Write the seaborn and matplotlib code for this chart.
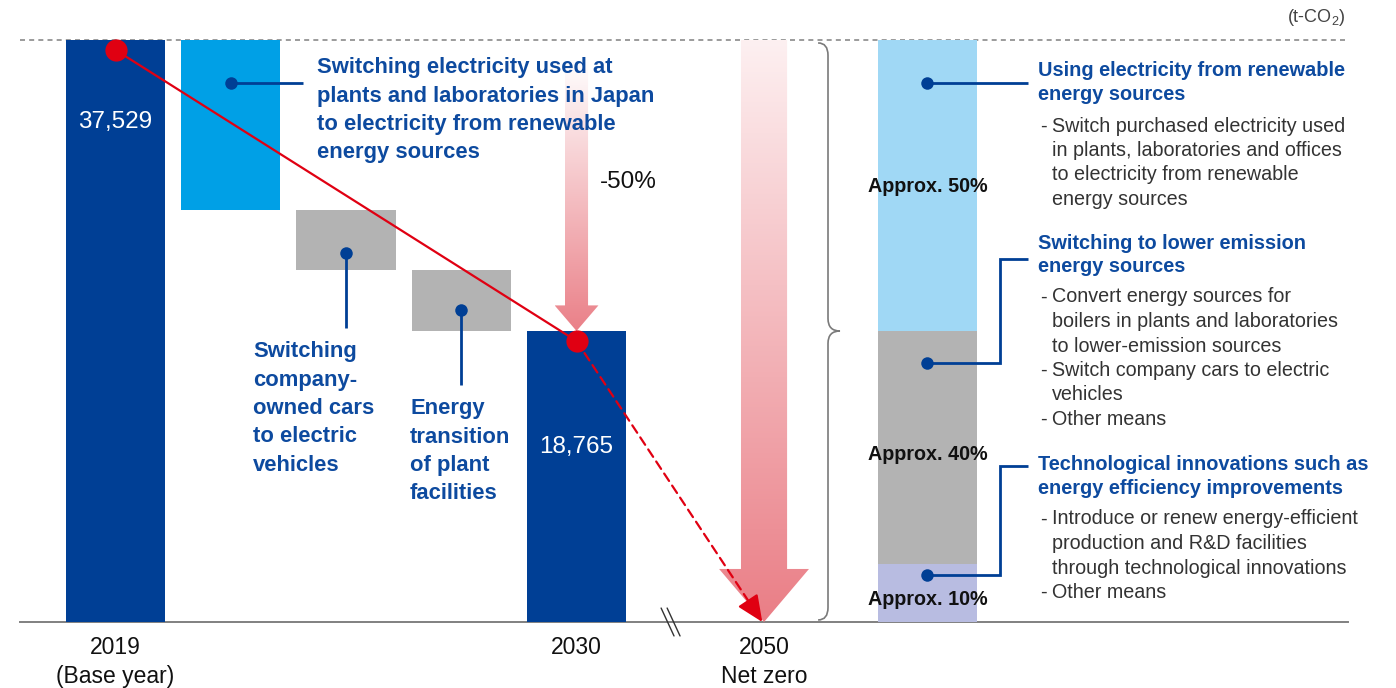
import numpy as np
import matplotlib
matplotlib.use("Agg")
import matplotlib.pyplot as plt
import seaborn as sns
from matplotlib.patches import Polygon, PathPatch
from matplotlib.path import Path
from matplotlib.colors import LinearSegmentedColormap
from matplotlib.transforms import offset_copy

# ---------------- data ----------------
years = ["2019", "2030"]
year_ticks = ["2019\n(Base year)", "2030", "2050\nNet zero"]
totals = [37529, 18765]                      # t-CO2
step_names = ["renew", "cars", "plant"]
step_values = [10960, 3900, 3904]            # reduction per measure, t-CO2
share_pct = [10, 40, 50]                     # bottom -> top
share_labels = [f"Approx. {p}%" for p in share_pct]

step_notes = [
    ["Switching electricity used at", "plants and laboratories in Japan",
     "to electricity from renewable", "energy sources"],
    ["Switching", "company-", "owned cars", "to electric", "vehicles"],
    ["Energy", "transition", "of plant", "facilities"],
]
measure_blocks = [
    (["Using electricity from renewable", "energy sources"],
     [["Switch purchased electricity used", "in plants, laboratories and offices",
       "to electricity from renewable", "energy sources"]]),
    (["Switching to lower emission", "energy sources"],
     [["Convert energy sources for", "boilers in plants and laboratories",
       "to lower-emission sources"],
      ["Switch company cars to electric", "vehicles"],
      ["Other means"]]),
    (["Technological innovations such as", "energy efficiency improvements"],
     [["Introduce or renew energy-efficient", "production and R&D facilities",
       "through technological innovations"],
      ["Other means"]]),
]

# ---------------- style ----------------
sns.set_theme(style="white")
plt.rcParams["font.family"] = ["Liberation Sans", "DejaVu Sans"]
plt.rcParams["mathtext.fontset"] = "custom"
plt.rcParams["mathtext.rm"] = "Liberation Sans"

DARK_BLUE = "#003f95"
LIGHT_BLUE = "#00a0e6"
GRAY = "#b3b3b3"
SHARE_COLORS = ["#b8bce1", "#b3b3b3", "#a0d8f5"]
TEXT_BLUE = "#0d4a9f"
RED = "#e00012"
BODY = "#333333"

W, H = 1396, 688
fig = plt.figure(figsize=(W / 100, H / 100), dpi=100)
ax = fig.add_axes([20 / W, 66 / H, 1328 / W, 582 / H])

BAR_W = 0.86
X_2050 = 5.627
X_SHARE = 7.045
X_BREAK = 4.81

order = ["2019"] + step_names + ["2030"]

# totals (2019 and 2030)
sns.barplot(x=years, y=totals, order=order, color=DARK_BLUE, saturation=1,
            width=BAR_W, linewidth=0, ax=ax, zorder=2)

# floating waterfall steps
tops = totals[0] - np.concatenate([[0], np.cumsum(step_values)[:-1]])
bottoms = tops - np.array(step_values)
ax.bar([1, 2, 3], step_values, bottom=bottoms, width=BAR_W,
       color=[LIGHT_BLUE, GRAY, GRAY], linewidth=0, zorder=2)

# share of measures toward net zero
share_vals = np.array(share_pct) / 100 * totals[0]
share_bottoms = np.concatenate([[0], np.cumsum(share_vals)[:-1]])
ax.bar([X_SHARE] * 3, share_vals, bottom=share_bottoms, width=BAR_W,
       color=SHARE_COLORS, linewidth=0, zorder=2)

XLIM = (-0.829, 10.694)
ax.set_xlim(*XLIM)
ax.set_ylim(0, totals[0])
ax.set_yticks([])
ax.set_ylabel("")
ax.set_xlabel("")
sns.despine(ax=ax, left=True, top=True, right=True)
ax.spines["bottom"].set_color("#808080")
ax.spines["bottom"].set_linewidth(1.4)
ax.spines["bottom"].set_zorder(1)

ax.set_xticks([0, 4, X_2050])
ax.set_xticklabels(year_ticks, fontsize=16.5, color="#111111", linespacing=1.33)
ax.tick_params(axis="x", length=0, pad=10)

# reference line at base-year level
ax.axhline(totals[0], color="#8a8a8a", lw=1.2, ls=(0, (3, 2.5)), zorder=1, clip_on=False)


# ---------------- gradient arrows ----------------
def gradient_arrow(x, y_top, y_tip, shaft_hw, head_hw, head_len, c_top, c_bot, z=1.5):
    verts = [(x - shaft_hw, y_top), (x + shaft_hw, y_top),
             (x + shaft_hw, y_tip + head_len), (x + head_hw, y_tip + head_len),
             (x, y_tip), (x - head_hw, y_tip + head_len),
             (x - shaft_hw, y_tip + head_len)]
    poly = Polygon(verts, closed=True, facecolor="none", edgecolor="none")
    ax.add_patch(poly)
    grad = np.linspace(0, 1, 256).reshape(-1, 1)
    cmap = LinearSegmentedColormap.from_list("fade", [c_bot, c_top])
    im = ax.imshow(grad, extent=[x - head_hw, x + head_hw, y_tip, y_top],
                   origin="lower", cmap=cmap, aspect="auto", zorder=z,
                   interpolation="bilinear")
    im.set_clip_path(poly)


gradient_arrow(4, 36240, totals[1], 0.10, 0.19, 1650, "#ffffff", "#ea8088")
gradient_arrow(X_2050, totals[0], 0, 0.20, 0.39, 3420, "#fdf0f1", "#ea7e86")

ax.set_xlim(*XLIM)
ax.set_ylim(0, totals[0])

# ---------------- trend line ----------------
dot_tr = offset_copy(ax.transData, fig=fig, x=0, y=-10, units="dots")
ax.plot([0, 4], totals, color=RED, lw=1.6, transform=dot_tr, zorder=5, clip_on=False)
# dashed projection toward net zero, with a solid head
ax.annotate("", xy=(X_2050 - 0.015, 0), xycoords="data",
            xytext=(4, totals[1]), textcoords=dot_tr,
            arrowprops=dict(arrowstyle="-", color=RED, lw=1.6,
                            linestyle=(0, (4, 2.5)), shrinkA=0, shrinkB=8),
            zorder=5)
ax.annotate("", xy=(X_2050 - 0.015, 0), xycoords="data",
            xytext=(-8, 12), textcoords="offset points",
            arrowprops=dict(arrowstyle="-|>,head_length=0.9,head_width=0.4",
                            mutation_scale=18, color=RED, lw=1.6,
                            shrinkA=0, shrinkB=0),
            zorder=5)
ax.plot([0, 4], totals, "o", color=RED, ms=16, mec="none", transform=dot_tr,
        zorder=6, clip_on=False)

# axis break
for dx in (-3, 3):
    ax.plot([X_BREAK - 0.05 + dx * 0.0087, X_BREAK + 0.062 + dx * 0.0087],
            [900, -900], color="#333333", lw=1.0, clip_on=False, zorder=4)

# brace spanning the base-year emissions
bx0, bx1, bx2 = 6.096, 6.182, 6.286
top, bot, mid = totals[0] - 190, 130, totals[0] / 2
r = 800
brace = Path(
    [(bx0, top), (bx1, top), (bx1, top - r),
     (bx1, mid + r), (bx1, mid), (bx2, mid),
     (bx1, mid), (bx1, mid - r),
     (bx1, bot + r), (bx1, bot), (bx0, bot)],
    [Path.MOVETO, Path.CURVE3, Path.CURVE3,
     Path.LINETO, Path.CURVE3, Path.CURVE3,
     Path.CURVE3, Path.CURVE3,
     Path.LINETO, Path.CURVE3, Path.CURVE3])
ax.add_patch(PathPatch(brace, facecolor="none", edgecolor="#7a7a7a", lw=1.2, zorder=3))


# ---------------- leader lines ----------------
def leader(points, z=4):
    xs, ys = zip(*points)
    ax.plot(xs, ys, color=DARK_BLUE, lw=2, zorder=z, clip_on=False,
            solid_capstyle="butt", solid_joinstyle="miter")
    ax.plot([xs[0]], [ys[0]], "o", color=DARK_BLUE, ms=9, mec="none", zorder=z + 0.1)


leader([(1, 34756), (1.627, 34756)])
leader([(2, 23794), (2, 18958)])
leader([(3, 20119), (3, 15283)])
leader([(X_SHARE, 34756), (7.92, 34756)])
leader([(X_SHARE, 16701), (7.675, 16701), (7.675, 23407), (7.92, 23407)])
leader([(X_SHARE, 3031), (7.675, 3031), (7.675, 10059), (7.92, 10059)])

# ---------------- labels ----------------
ax.text(0, 32241, f"{totals[0]:,}", color="white", fontsize=17.5, ha="center", va="center", zorder=6)
ax.text(4, 11284, f"{totals[1]:,}", color="white", fontsize=17.5, ha="center", va="center", zorder=6)

label_y = [1419, 10833, 28114]
for yv, lab in zip(label_y, share_labels):
    ax.text(X_SHARE, yv, lab, fontsize=14.2, fontweight="bold", color="#111111",
            ha="center", va="center", zorder=6)


def lines_at(x_px, y_px, lines, pitch, **kw):
    for i, s in enumerate(lines):
        fig.text(x_px / W, 1 - (y_px + i * pitch) / H, s, va="center", **kw)


blue_kw = dict(color=TEXT_BLUE, fontsize=15.8, fontweight="bold")
lines_at(317, 68, step_notes[0], 28.3, **blue_kw)
lines_at(253, 352, step_notes[1], 28.3, **blue_kw)
lines_at(410, 409, step_notes[2], 28.3, **blue_kw)

reduction = 1 - totals[1] / totals[0]
fig.text(628 / W, 1 - 182 / H, f"-{reduction * 100:.0f}%", fontsize=17.5,
         color="#111111", ha="center", va="center")

fig.text(1346 / W, 1 - 17 / H, r"(t-CO$_2$)", fontsize=13, color="#444444",
         ha="right", va="center")

block_tops = [(71, 126), (243, 297), (465, 519)]
for (head, items), (hy, by) in zip(measure_blocks, block_tops):
    lines_at(1038, hy, head, 23.5, color=TEXT_BLUE, fontsize=14.4, fontweight="bold")
    y = by
    for item in items:
        fig.text(1040 / W, 1 - y / H, "-", fontsize=14.2, color=BODY, va="center")
        lines_at(1052, y, item, 24.5, fontsize=14.2, color=BODY)
        y += 24.5 * len(item)

fig.savefig("out.png", dpi=100)
